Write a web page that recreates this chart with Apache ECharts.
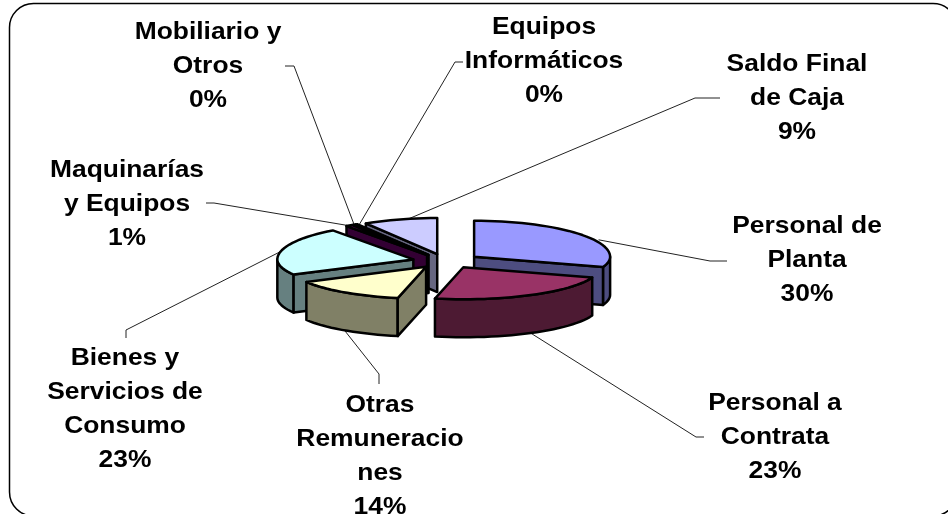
<!DOCTYPE html>
<html>
<head>
<meta charset="utf-8">
<style>html,body{margin:0;padding:0;background:#fff}#main{width:948px;height:514px}</style>
<script src="https://cdn.jsdelivr.net/npm/echarts@6/dist/echarts.min.js"></script>
</head>
<body>
<div id="main"></div>
<script>
var names = ['Personal de\nPlanta', 'Personal a\nContrata', 'Otras\nRemuneracio\nnes', 'Bienes y\nServicios de\nConsumo', 'Maquinarías\ny Equipos', 'Mobiliario y\nOtros', 'Equipos\nInformáticos', 'Saldo Final\nde Caja'];
var values = [30.2, 23.2, 13.8, 22.8, 0.8, 0.3, 0.2, 8.8];
var topColors = ['#9999ff', '#993366', '#ffffcc', '#ccffff', '#660066', '#ff8080', '#0066cc', '#ccccff'];
var sideColors = ['#4d4d80', '#4d1a33', '#808066', '#668080', '#330033', '#804040', '#003366', '#666680'];

// back to front
var drawOrder = [7, 6, 5, 4, 3, 0, 1, 2];

// pie projection, the front half is a bit flatter in the original
var cx = 446.5, cy = 261, rx = 136, ryBack = 36, ryFront = 32, depth = 38, explodeX = 0.25, explodeY = 0.2;

// label centre (first line is at labelY) and the leader's two outer points
var labelX = [807, 775, 380, 125, 127, 208, 544, 797];
var labelY = [226, 403, 405, 358, 170, 32, 27, 64];
var elbows = [
  [[727, 261], [710, 261]],
  [[704, 437], [696, 437]],
  [[379, 384], [379, 374]],
  [[126, 338], [126, 330]],
  [[206, 203], [214, 203]],
  [[285, 66], [294, 66]],
  [[463, 62], [455, 62]],
  [[720, 98], [695, 98]]
];
var anchorNudge = [[14, 4], [0, 0], [0, 0], [0, 0], [-1, 0], [0, 0], [3, 0], [7, 0]];

var total = values.reduce(function (a, b) { return a + b; }, 0);

function rad(deg) { return deg * Math.PI / 180; }

// angle is clockwise from 12 o'clock
function rim(o, deg) {
  var c = Math.cos(rad(deg));
  return [o[0] + rx * Math.sin(rad(deg)), o[1] - (c < 0 ? ryFront : ryBack) * c];
}
function drop(p) { return [p[0], p[1] + depth]; }

function sliceAngles(idx) {
  var before = 0;
  for (var i = 0; i < idx; i++) before += values[i];
  return [before / total * 360, (before + values[idx]) / total * 360];
}
function sliceOrigin(idx) {
  var a = sliceAngles(idx);
  var mid = (a[0] + a[1]) / 2;
  return [cx + explodeX * rx * Math.sin(rad(mid)), cy - explodeY * ryBack * Math.cos(rad(mid))];
}
function arcPoints(o, from, to) {
  var pts = [];
  var n = Math.max(2, Math.ceil((to - from) / 3));
  for (var i = 0; i <= n; i++) pts.push(rim(o, from + (to - from) * i / n));
  return pts;
}

function face(points, fill, z2) {
  return {
    type: 'polygon',
    shape: { points: points },
    style: { fill: fill, stroke: '#000', lineWidth: 2.5, lineJoin: 'round' },
    z2: z2
  };
}

function renderSlice(params, api) {
  var idx = params.dataIndex;
  var a = sliceAngles(idx);
  var o = sliceOrigin(idx);
  var z = drawOrder.indexOf(idx) * 10;
  var children = [];
  var side = sideColors[idx];

  // outer wall, only the part that faces the viewer
  var from = Math.max(a[0], 90), to = Math.min(a[1], 270);
  if (to > from) {
    var wall = arcPoints(o, from, to);
    children.push(face(wall.concat(wall.map(drop).reverse()), side, z + 1));
  }
  // cut walls
  if (Math.sin(rad(a[0])) < -1e-6) {
    var s = rim(o, a[0]);
    children.push(face([o, s, drop(s), drop(o)], side, z + 2));
  }
  if (Math.sin(rad(a[1])) > 1e-6) {
    var e = rim(o, a[1]);
    children.push(face([o, e, drop(e), drop(o)], side, z + 2));
  }
  // top
  children.push(face([o].concat(arcPoints(o, a[0], a[1])), topColors[idx], z + 3));
  return { type: 'group', children: children };
}

function renderLabel(params, api) {
  var idx = params.dataIndex;
  var a = sliceAngles(idx);
  var mid = (a[0] + a[1]) / 2;
  var p = rim(sliceOrigin(idx), mid);
  if (Math.cos(rad(mid)) < 0) p = drop(p);
  p = [p[0] + anchorNudge[idx][0], p[1] + anchorNudge[idx][1]];
  var pct = Math.round(api.value(0) / total * 100) + '%';
  return {
    type: 'group',
    children: [{
      type: 'polyline',
      shape: { points: [elbows[idx][0], elbows[idx][1], p] },
      style: { fill: 'none', stroke: '#222', lineWidth: 1 }
    }, {
      type: 'text',
      x: labelX[idx],
      y: labelY[idx] - 17,
      scaleX: 1.1,
      style: {
        text: names[idx] + '\n' + pct,
        font: 'bold 24px "Liberation Sans", Arial, sans-serif',
        lineHeight: 34,
        fill: '#000',
        align: 'center',
        verticalAlign: 'top'
      }
    }]
  };
}

var chart = echarts.init(document.getElementById('main'), null, { renderer: 'canvas' });
chart.setOption({
  animation: false,
  backgroundColor: '#fff',
  graphic: [{
    type: 'rect',
    shape: { x: 9.5, y: 3.5, width: 947.5, height: 512.5, r: 24 },
    style: { fill: 'none', stroke: '#000', lineWidth: 1.5 },
    z: 0
  }],
  series: [{
    type: 'custom',
    coordinateSystem: 'none',
    renderItem: renderLabel,
    data: values,
    z: 1,
    silent: true
  }, {
    type: 'custom',
    coordinateSystem: 'none',
    renderItem: renderSlice,
    data: values,
    z: 2,
    silent: true
  }]
});
</script>
</body>
</html>
